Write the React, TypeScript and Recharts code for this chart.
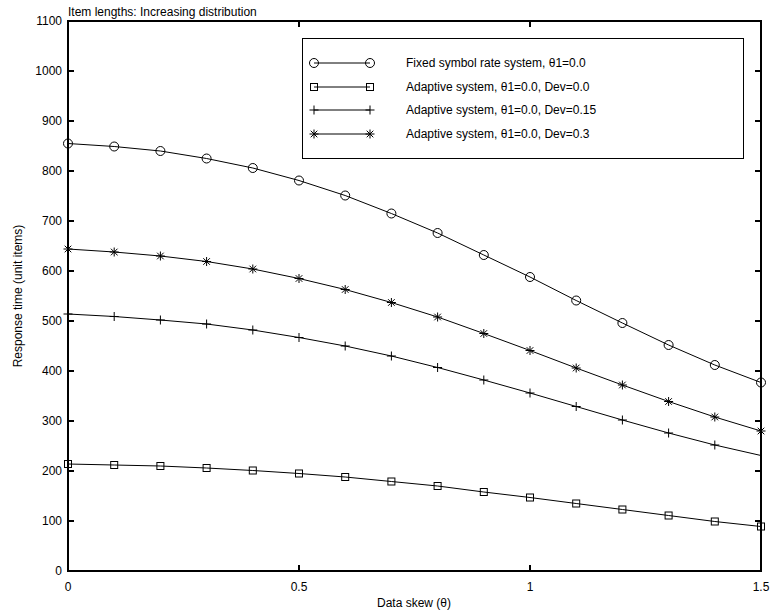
import React from 'react';
import { LineChart, Line, XAxis, YAxis } from 'recharts';

// Data skew (θ) sample points
const skew = [0, 0.1, 0.2, 0.3, 0.4, 0.5, 0.6, 0.7, 0.8, 0.9, 1.0, 1.1, 1.2, 1.3, 1.4, 1.5];

// Response time (unit items) for each system
const fixedRate = [855, 849, 840, 825, 806, 781, 751, 715, 676, 632, 588, 541, 496, 452, 412, 377];
const adaptiveDev0 = [214, 212, 210, 206, 201, 195, 188, 179, 170, 158, 147, 135, 123, 111, 99, 89];
const adaptiveDev015 = [514, 509, 502, 494, 482, 467, 450, 430, 407, 382, 356, 329, 302, 276, 252, 231];
const adaptiveDev03 = [644, 638, 630, 619, 604, 585, 563, 537, 508, 475, 441, 406, 372, 339, 308, 280];

const xTicks = [0, 0.5, 1, 1.5];
const yTicks = [0, 100, 200, 300, 400, 500, 600, 700, 800, 900, 1000, 1100];
const X_DOMAIN: [number, number] = [0, 1.5];
const Y_DOMAIN: [number, number] = [0, 1100];

const seriesNames = [
  'Fixed symbol rate system, \u03b81=0.0',
  'Adaptive system, \u03b81=0.0, Dev=0.0',
  'Adaptive system, \u03b81=0.0, Dev=0.15',
  'Adaptive system, \u03b81=0.0, Dev=0.3',
];

const rows = skew.map((s, i) => ({
  skew: s,
  fixed: fixedRate[i],
  dev0: adaptiveDev0[i],
  dev015: adaptiveDev015[i],
  dev03: adaptiveDev03[i],
}));

const FONT = '"Liberation Sans", Arial, Helvetica, sans-serif';
const CHART_W = 771;
const CHART_H = 616;
const MARGIN = { top: 21, right: 10, bottom: 15, left: 0 };
const Y_AXIS_W = 68;
const X_AXIS_H = 30;
// plot box derived from the chart layout
const PLOT_LEFT = MARGIN.left + Y_AXIS_W;
const PLOT_TOP = MARGIN.top;
const PLOT_RIGHT = CHART_W - MARGIN.right;
const PLOT_BOTTOM = CHART_H - MARGIN.bottom - X_AXIS_H;
const TICK_LEN = 6;
const X_MARGIN = 8;
const Y_MARGIN = 6;
const FRAME_W = 2;

const xPos = (v: number) =>
  PLOT_LEFT + ((v - X_DOMAIN[0]) / (X_DOMAIN[1] - X_DOMAIN[0])) * (PLOT_RIGHT - PLOT_LEFT);
const yPos = (v: number) =>
  PLOT_BOTTOM - ((v - Y_DOMAIN[0]) / (Y_DOMAIN[1] - Y_DOMAIN[0])) * (PLOT_BOTTOM - PLOT_TOP);

// Marker glyphs
const CircleMark = ({ cx, cy }: { cx: number; cy: number }) => (
  <circle cx={cx} cy={cy} r={4.5} fill="none" stroke="#000" strokeWidth={1} />
);
const SquareMark = ({ cx, cy }: { cx: number; cy: number }) => (
  <rect x={cx - 3.5} y={cy - 3.5} width={7} height={7} fill="none" stroke="#000" strokeWidth={1} />
);
const PlusMark = ({ cx, cy }: { cx: number; cy: number }) => (
  <g stroke="#000" strokeWidth={1}>
    <line x1={cx - 4.5} y1={cy} x2={cx + 4.5} y2={cy} />
    <line x1={cx} y1={cy - 4.5} x2={cx} y2={cy + 4.5} />
  </g>
);
const StarMark = ({ cx, cy }: { cx: number; cy: number }) => (
  <g stroke="#000" strokeWidth={1}>
    <line x1={cx - 4.5} y1={cy} x2={cx + 4.5} y2={cy} />
    <line x1={cx} y1={cy - 4.5} x2={cx} y2={cy + 4.5} />
    <line x1={cx - 3.3} y1={cy - 3.3} x2={cx + 3.3} y2={cy + 3.3} />
    <line x1={cx - 3.3} y1={cy + 3.3} x2={cx + 3.3} y2={cy - 3.3} />
  </g>
);

const markers = [CircleMark, SquareMark, PlusMark, StarMark];

const makeDot = (Mark: any, skipLast = false) => (props: any) => {
  const { cx, cy, index } = props;
  if (cx == null || cy == null || (skipLast && index === skew.length - 1)) {
    return <g key={`d-${index}`} />;
  }
  return <Mark key={`d-${index}`} cx={cx} cy={cy} />;
};

// Tick labels
const BottomTick = (props: any) => {
  const { x, y, payload } = props;
  return (
    <text x={x} y={y + 12} textAnchor="middle" fontSize={12} fontFamily={FONT} fill="#000">
      {payload.value}
    </text>
  );
};
const LeftTick = (props: any) => {
  const { x, y, payload } = props;
  return (
    <text x={x} y={y + 4} textAnchor="end" fontSize={12} fontFamily={FONT} fill="#000">
      {payload.value}
    </text>
  );
};

// Boxed frame with inward tick marks on all four sides
const Frame = () => (
  <svg
    width={CHART_W}
    height={CHART_H}
    style={{ position: 'absolute', left: 0, top: 0, pointerEvents: 'none' }}
  >
    <rect
      x={PLOT_LEFT}
      y={PLOT_TOP}
      width={PLOT_RIGHT - PLOT_LEFT}
      height={PLOT_BOTTOM - PLOT_TOP}
      fill="none"
      stroke="#000"
      strokeWidth={FRAME_W}
    />
    {xTicks.map((v) => (
      <g key={`xt-${v}`} stroke="#000" strokeWidth={FRAME_W}>
        <line x1={xPos(v)} y1={PLOT_BOTTOM} x2={xPos(v)} y2={PLOT_BOTTOM - TICK_LEN} />
        <line x1={xPos(v)} y1={PLOT_TOP} x2={xPos(v)} y2={PLOT_TOP + TICK_LEN} />
      </g>
    ))}
    {yTicks.map((v) => (
      <g key={`yt-${v}`} stroke="#000" strokeWidth={FRAME_W}>
        <line x1={PLOT_LEFT} y1={yPos(v)} x2={PLOT_LEFT + TICK_LEN} y2={yPos(v)} />
        <line x1={PLOT_RIGHT} y1={yPos(v)} x2={PLOT_RIGHT - TICK_LEN} y2={yPos(v)} />
      </g>
    ))}
  </svg>
);

const LegendBox = () => (
  <div
    style={{
      position: 'absolute',
      left: 302,
      top: 38,
      width: 440,
      height: 119,
      border: '1px solid #000',
      background: '#fff',
      fontFamily: FONT,
      fontSize: 12,
      color: '#000',
    }}
  >
    {seriesNames.map((name, i) => {
      const Mark = markers[i];
      const rowY = 24 + i * 23.7;
      return (
        <div key={name}>
          <svg
            width={70}
            height={14}
            style={{ position: 'absolute', left: 4, top: rowY - 7 }}
          >
            <line x1={7} y1={7} x2={63} y2={7} stroke="#000" strokeWidth={1} />
            <Mark cx={7} cy={7} />
            <Mark cx={63} cy={7} />
          </svg>
          <div
            style={{
              position: 'absolute',
              left: 103,
              top: rowY - 8,
              lineHeight: '16px',
              whiteSpace: 'nowrap',
            }}
          >
            {name}
          </div>
        </div>
      );
    })}
  </div>
);

export default function App() {
  return (
    <div style={{ position: 'absolute', left: 0, top: 0, width: CHART_W, height: CHART_H }}>
      <LineChart width={CHART_W} height={CHART_H} data={rows} margin={MARGIN}>
        <XAxis
          dataKey="skew"
          type="number"
          domain={X_DOMAIN}
          ticks={xTicks}
          height={X_AXIS_H}
          tickSize={0}
          tickMargin={X_MARGIN}
          tick={<BottomTick />}
          axisLine={{ stroke: '#000', strokeWidth: 1 }}
          interval={0}
        />
        <YAxis
          type="number"
          domain={Y_DOMAIN}
          ticks={yTicks}
          width={Y_AXIS_W}
          tickSize={0}
          tickMargin={Y_MARGIN}
          tick={<LeftTick />}
          axisLine={{ stroke: '#000', strokeWidth: 1 }}
          interval={0}
        />
        <Line dataKey="fixed" type="linear" stroke="#000" strokeWidth={1} dot={makeDot(CircleMark)} activeDot={false} isAnimationActive={false} />
        <Line dataKey="dev0" type="linear" stroke="#000" strokeWidth={1} dot={makeDot(SquareMark)} activeDot={false} isAnimationActive={false} />
        <Line dataKey="dev015" type="linear" stroke="#000" strokeWidth={1} dot={makeDot(PlusMark, true)} activeDot={false} isAnimationActive={false} />
        <Line dataKey="dev03" type="linear" stroke="#000" strokeWidth={1} dot={makeDot(StarMark)} activeDot={false} isAnimationActive={false} />
      </LineChart>

      <Frame />

      <div style={{ position: 'absolute', left: 68, top: 4, fontFamily: FONT, fontSize: 12, lineHeight: '16px', color: '#000', whiteSpace: 'nowrap' }}>
        Item lengths: Increasing distribution
      </div>
      <div style={{ position: 'absolute', left: 314, width: 200, top: 595, textAlign: 'center', fontFamily: FONT, fontSize: 12, lineHeight: '16px', color: '#000' }}>
        Data skew (θ)
      </div>
      <div
        style={{
          position: 'absolute',
          left: 18,
          top: 296,
          transform: 'translate(-50%, -50%) rotate(-90deg)',
          fontFamily: FONT,
          fontSize: 12,
          lineHeight: '16px',
          color: '#000',
          whiteSpace: 'nowrap',
        }}
      >
        Response time (unit items)
      </div>
      <LegendBox />
    </div>
  );
}
